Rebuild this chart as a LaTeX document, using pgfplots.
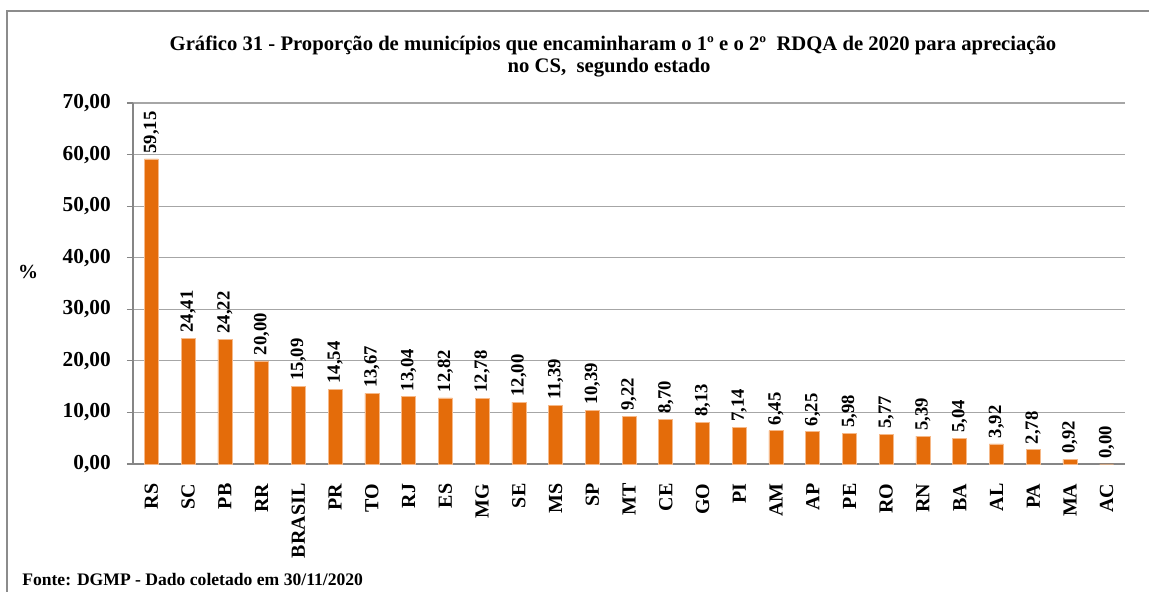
\documentclass[border=0pt]{standalone}
\usepackage{pgfplots}
\pgfplotsset{compat=1.18}
\usepackage{fontspec}
\setmainfont{Liberation Serif}
\definecolor{barc}{HTML}{E46C0A}
\definecolor{baredge}{HTML}{F6B989}
\definecolor{gridc}{HTML}{A6A6A6}
\definecolor{axc}{HTML}{868686}
\definecolor{framec}{HTML}{8C8C8C}
\begin{document}
\begin{tikzpicture}
\begin{scope}[x=0.75pt,y=0.75pt]
\useasboundingbox (0,0) rectangle (1149,592);
\draw[color=framec, line width=1.3pt] (7,-5) -- (7,581) -- (1160,581);
\node[font=\bfseries\fontsize{15.5}{18}\selectfont] at (613,547) {Gráfico 31 - Proporção de municípios que encaminharam o 1º e o 2º\ \ RDQA de 2020 para apreciação};
\node[font=\bfseries\fontsize{15.5}{18}\selectfont] at (609,524) {no CS,\ \ segundo estado};
\node[font=\bfseries\fontsize{15}{18}\selectfont] at (28,320) {\%};
\node[font=\bfseries\fontsize{13.2}{15}\selectfont, anchor=west, inner sep=0pt] at (22,12) {Fonte: DGMP - Dado coletado em 30/11/2020};
\end{scope}
\begin{axis}[
  at={(99.75pt,96pt)}, anchor=south west,
  scale only axis,
  width=744pt, height=270.75pt,
  ymin=0, ymax=70,
  ytick={0,10,...,70},
  xmin=-0.5, xmax=26.5,
  axis lines*=left,
  axis line style={color=axc, line width=0.8pt},
  ymajorgrids,
  grid style={color=gridc, line width=0.8pt},
  tick align=outside,
  major tick length=4.5pt,
  tick style={color=axc, line width=0.8pt},
  y tick label style={font=\bfseries\fontsize{16}{19}\selectfont, inner sep=0pt},
  yticklabel shift=12pt,
  yticklabel={\pgfmathprintnumber[fixed, fixed zerofill, precision=2, use comma]{\tick}},
  /pgf/number format/assume math mode=true,
  xtick={0,...,26},
  xticklabels={RS,SC,PB,RR,BRASIL,PR,TO,RJ,ES,MG,SE,MS,SP,MT,CE,GO,PI,AM,AP,PE,RO,RN,BA,AL,PA,MA,AC},
  x tick style={draw=none},
  x tick label style={font=\bfseries\fontsize{15}{18}\selectfont, rotate=90, anchor=east, inner sep=0pt},
  xticklabel shift=10pt,
  extra x ticks={-0.5,0.5,...,26.5},
  extra x tick labels={},
  extra x tick style={grid=none, tick style={draw=axc, line width=0.8pt}, major tick length=4.5pt},
  ybar, bar width=10.5pt,
  nodes near coords={\pgfmathprintnumber[fixed, fixed zerofill, precision=2, use comma, assume math mode=true]{\pgfplotspointmeta}},
  nodes near coords style={font=\bfseries\fontsize{14}{17}\selectfont, rotate=90, anchor=west, inner sep=4pt},
  clip=false,
]
\addplot[fill=barc, draw=baredge, line width=0.4pt] coordinates {
(0,59.15) (1,24.41) (2,24.22) (3,20.00) (4,15.09) (5,14.54) (6,13.67) (7,13.04) (8,12.82)
(9,12.78) (10,12.00) (11,11.39) (12,10.39) (13,9.22) (14,8.70) (15,8.13) (16,7.14) (17,6.45)
(18,6.25) (19,5.98) (20,5.77) (21,5.39) (22,5.04) (23,3.92) (24,2.78) (25,0.92) (26,0.00)
};
\end{axis}
\end{tikzpicture}
\end{document}
